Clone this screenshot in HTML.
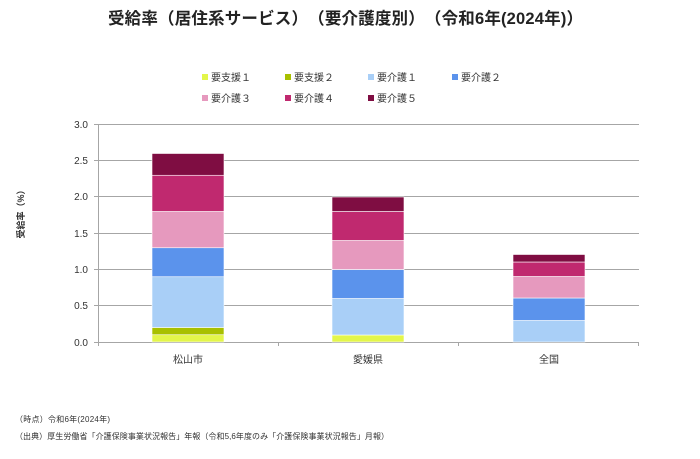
<!DOCTYPE html>
<html><head><meta charset="utf-8">
<style>
html,body{margin:0;padding:0;background:#fff;}
body{width:700px;height:459px;overflow:hidden;}
svg{display:block;font-family:"Liberation Sans","Noto Sans CJK JP",sans-serif;font-kerning:none;text-spacing-trim:space-all;}
</style></head>
<body>
<svg width="700" height="459" viewBox="0 0 700 459" xmlns="http://www.w3.org/2000/svg">
<rect width="700" height="459" fill="#fff"/>
<text x="108" y="24" font-size="16.5" font-weight="bold" fill="#222" textLength="475" lengthAdjust="spacing">受給率（居住系サービス）（要介護度別）（令和6年(2024年)）</text>

<!-- legend -->
<g font-size="10" fill="#333">
<rect x="202" y="74" width="6" height="6" fill="#e3f64a"/><text x="211" y="81">要支援１</text>
<rect x="285" y="74" width="6" height="6" fill="#a8c000"/><text x="294" y="81">要支援２</text>
<rect x="368" y="74" width="6" height="6" fill="#a9cff7"/><text x="377" y="81">要介護１</text>
<rect x="452" y="74" width="6" height="6" fill="#5b93ec"/><text x="461" y="81">要介護２</text>
<rect x="202" y="95" width="6" height="6" fill="#e699be"/><text x="211" y="102">要介護３</text>
<rect x="285" y="95" width="6" height="6" fill="#c0296f"/><text x="294" y="102">要介護４</text>
<rect x="368" y="95" width="6" height="6" fill="#7f0d42"/><text x="377" y="102">要介護５</text>
</g>

<!-- grid -->
<g stroke="#a6a6a6" stroke-width="1">
<line x1="94" y1="124.5" x2="639" y2="124.5"/>
<line x1="94" y1="160.5" x2="639" y2="160.5"/>
<line x1="94" y1="196.5" x2="639" y2="196.5"/>
<line x1="94" y1="233.5" x2="639" y2="233.5"/>
<line x1="94" y1="269.5" x2="639" y2="269.5"/>
<line x1="94" y1="305.5" x2="639" y2="305.5"/>
<line x1="94" y1="342.5" x2="639" y2="342.5"/>
<line x1="98.5" y1="124" x2="98.5" y2="342"/>
<line x1="98.5" y1="342" x2="98.5" y2="346"/>
<line x1="278.5" y1="342" x2="278.5" y2="346"/>
<line x1="458.5" y1="342" x2="458.5" y2="346"/>
<line x1="638.5" y1="342" x2="638.5" y2="346"/>
</g>

<!-- y ticks -->
<g font-size="10" fill="#333" text-anchor="end">
<text x="88" y="128">3.0</text>
<text x="88" y="164">2.5</text>
<text x="88" y="200">2.0</text>
<text x="88" y="237">1.5</text>
<text x="88" y="273">1.0</text>
<text x="88" y="309">0.5</text>
<text x="88" y="346">0.0</text>
</g>

<text transform="translate(24,212) rotate(-90)" text-anchor="middle" font-size="9" font-weight="bold" fill="#333">受給率（%）</text>

<!-- bars -->
<g stroke="#fff" stroke-width="0.6">
<rect x="152" y="334.75" width="72" height="7.25" fill="#e3f64a"/>
<rect x="152" y="327.5" width="72" height="7.25" fill="#a8c000"/>
<rect x="152" y="276.75" width="72" height="50.75" fill="#a9cff7"/>
<rect x="152" y="247.75" width="72" height="29" fill="#5b93ec"/>
<rect x="152" y="211.5" width="72" height="36.25" fill="#e699be"/>
<rect x="152" y="175.25" width="72" height="36.25" fill="#c0296f"/>
<rect x="152" y="153.5" width="72" height="21.75" fill="#7f0d42"/>

<rect x="332" y="335" width="72" height="7" fill="#e3f64a"/>
<rect x="332" y="298.5" width="72" height="36.5" fill="#a9cff7"/>
<rect x="332" y="269.5" width="72" height="29" fill="#5b93ec"/>
<rect x="332" y="240.5" width="72" height="29" fill="#e699be"/>
<rect x="332" y="211.5" width="72" height="29" fill="#c0296f"/>
<rect x="332" y="197" width="72" height="14.5" fill="#7f0d42"/>

<rect x="513" y="320.5" width="72" height="21.5" fill="#a9cff7"/>
<rect x="513" y="298" width="72" height="22.5" fill="#5b93ec"/>
<rect x="513" y="276.5" width="72" height="21.5" fill="#e699be"/>
<rect x="513" y="262" width="72" height="14.5" fill="#c0296f"/>
<rect x="513" y="254.5" width="72" height="7.5" fill="#7f0d42"/>
</g>

<!-- category labels -->
<g font-size="10" fill="#333" text-anchor="middle">
<text x="188" y="363">松山市</text>
<text x="368" y="363">愛媛県</text>
<text x="549" y="363">全国</text>
</g>

<!-- footer -->
<g font-size="8" fill="#333">
<text x="15" y="422" textLength="95" lengthAdjust="spacing">（時点）令和6年(2024年)</text>
<text x="15" y="439" textLength="374" lengthAdjust="spacing">（出典）厚生労働省「介護保険事業状況報告」年報（令和5,6年度のみ「介護保険事業状況報告」月報）</text>
</g>
</svg>
</body></html>
